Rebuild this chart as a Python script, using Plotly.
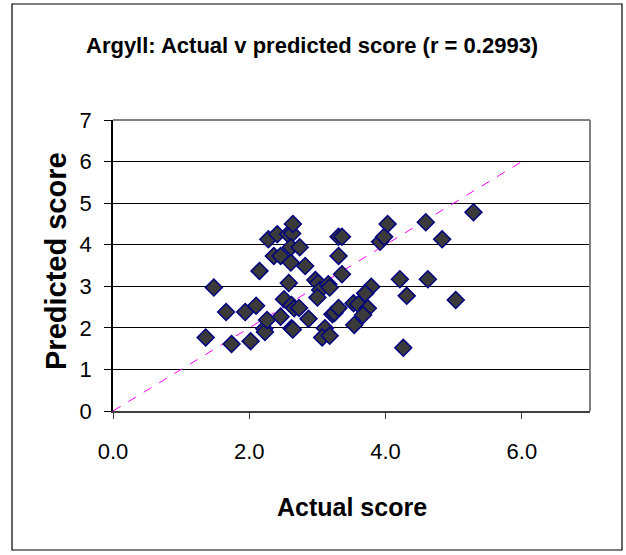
import plotly.graph_objects as go

actual = [1.36, 1.48, 1.66, 1.74, 1.94, 2.02, 2.10, 2.15, 2.22, 2.23, 2.26, 2.28, 2.36, 2.41,
          2.46, 2.46, 2.51, 2.57, 2.63, 2.64, 2.58, 2.61, 2.61, 2.74, 2.82, 2.62, 2.66, 2.73,
          2.62, 2.64, 2.87, 2.97, 3.01, 3.04, 3.00, 3.16, 3.18, 3.11, 3.07, 3.18, 3.22, 3.25,
          3.31, 3.36, 3.31, 3.31, 3.36, 3.92, 3.98, 4.03, 4.59, 4.83, 5.29, 4.21, 4.62, 4.31,
          5.03, 3.79, 3.70, 3.53, 3.60, 3.74, 3.67, 3.54, 4.26]
predicted = [1.77, 2.97, 2.38, 1.61, 2.38, 1.68, 2.53, 3.37, 1.98, 1.90, 2.19, 4.13, 3.73, 4.25,
             3.73, 2.27, 2.69, 4.25, 4.27, 4.50, 3.08, 3.57, 3.94, 3.94, 3.49, 2.55, 2.47, 2.48,
             1.99, 1.96, 2.22, 3.15, 3.08, 2.91, 2.73, 3.05, 2.97, 1.99, 1.77, 1.81, 2.33, 2.36,
             2.48, 3.29, 3.73, 4.19, 4.19, 4.07, 4.19, 4.50, 4.54, 4.13, 4.78, 3.17, 3.17, 2.77,
             2.67, 2.99, 2.83, 2.59, 2.57, 2.47, 2.31, 2.07, 1.52]

ref_x = [0, 6]
ref_y = [0, 6]

title_text = "Argyll: Actual v predicted score (r = 0.2993)"
x_title = "Actual score"
y_title = "Predicted score"

W, H = 626, 555
L, R, T, B = 113, 36, 120, 144
pw, ph = W - L - R, H - T - B

def px(x):
    return (x - L) / pw

def py(y):
    return (H - B - y) / ph

fig = go.Figure()
fig.add_trace(go.Scatter(x=ref_x, y=ref_y, mode="lines",
                         line=dict(color="#FF00FF", width=1, dash="dash"),
                         hoverinfo="skip", showlegend=False))
fig.add_trace(go.Scatter(x=actual, y=predicted, mode="markers",
                         marker=dict(symbol="diamond", size=13, color="#3a3a3a",
                                     line=dict(color="#000080", width=1.5)),
                         showlegend=False))

font = "Liberation Sans, Arial, sans-serif"
fig.update_layout(
    width=W, height=H,
    margin=dict(l=L, r=R, t=T, b=B, pad=0),
    paper_bgcolor="white", plot_bgcolor="white",
    font=dict(family=font, color="black"),
    xaxis=dict(range=[0, 7], tickvals=[0, 2, 4, 6], tickformat=".1f",
               showgrid=False, zeroline=False, showline=True, linecolor="#404040", linewidth=2,
               ticks="outside", ticklen=6, tickcolor="#404040", tickwidth=1,
               ticklabelstandoff=14,
               tickfont=dict(size=22, family=font)),
    yaxis=dict(range=[0, 7], dtick=1, showgrid=True, gridcolor="black", gridwidth=1,
               zeroline=False, showline=True, linecolor="black", linewidth=1.5,
               ticks="outside", ticklen=7, tickcolor="black", tickwidth=1,
               ticklabelstandoff=8,
               tickfont=dict(size=22, family=font)),
    shapes=[
        dict(type="rect", xref="paper", yref="paper", x0=px(12), x1=px(622), y0=py(550), y1=py(4),
             line=dict(color="black", width=1.2), fillcolor="rgba(0,0,0,0)", layer="below"),
        dict(type="line", xref="paper", yref="paper", x0=0, x1=1, y0=1, y1=1,
             line=dict(color="#808080", width=2)),
        dict(type="line", xref="paper", yref="paper", x0=1, x1=1, y0=0, y1=1,
             line=dict(color="#808080", width=2)),
    ],
    annotations=[
        dict(text="<b>" + title_text + "</b>", xref="paper", yref="paper",
             x=px(312), y=py(45), showarrow=False, xanchor="center", yanchor="middle",
             font=dict(size=22, family=font)),
        dict(text="<b>" + x_title + "</b>", xref="paper", yref="paper",
             x=0.5, y=py(507), showarrow=False, xanchor="center", yanchor="middle",
             font=dict(size=25, family=font)),
        dict(text="<b>" + y_title + "</b>", xref="paper", yref="paper",
             x=px(56), y=py(261), showarrow=False, xanchor="center", yanchor="middle",
             textangle=-90, font=dict(size=29, family=font)),
    ],
)

fig.write_html("out.html", config={"displayModeBar": False},
               post_script="document.body.style.margin='0';document.body.style.overflow='hidden';")
